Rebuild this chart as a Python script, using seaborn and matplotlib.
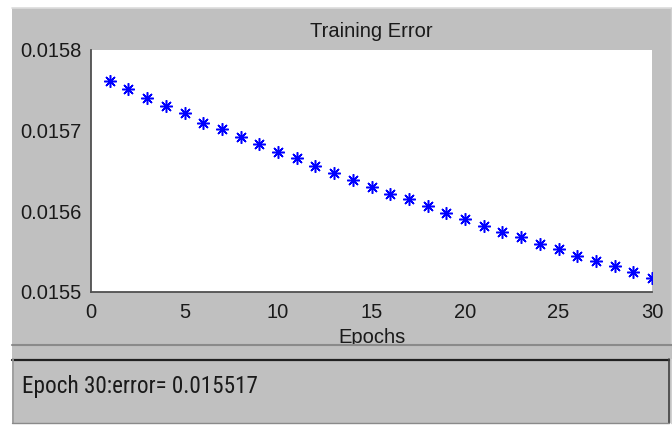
import matplotlib
matplotlib.use('Agg')
import matplotlib.pyplot as plt
import seaborn as sns
from matplotlib.patches import Rectangle
from matplotlib.lines import Line2D

# ---- data ----
epochs = list(range(1, 31))
errors = [0.015761, 0.015752, 0.015741, 0.015731, 0.015722, 0.015710,
          0.015702, 0.015692, 0.015683, 0.015673, 0.015666, 0.015656,
          0.015647, 0.015639, 0.015630, 0.015622, 0.015615, 0.015607,
          0.015598, 0.015590, 0.015582, 0.015574, 0.015568, 0.015560,
          0.015553, 0.015545, 0.015538, 0.015532, 0.015525, 0.015517]
x_ticks = [0, 5, 10, 15, 20, 25, 30]
y_ticks = [0.0155, 0.0156, 0.0157, 0.0158]
title = "Training Error"
xlabel = "Epochs"
status = "Epoch 30:error= 0.015517"

W, H = 672, 425
sns.set_theme(style="white")
plt.rcParams['font.family'] = ['Liberation Sans', 'DejaVu Sans']

fig = plt.figure(figsize=(W / 100, H / 100), dpi=100, facecolor='white')
gray = '#c0c0c0'


def rect(x0, y0, x1, y1, **kw):
    return Rectangle((x0 / W, 1 - y1 / H), (x1 - x0) / W, (y1 - y0) / H,
                     transform=fig.transFigure, **kw)


def hline(y, x0, x1, **kw):
    return Line2D([x0 / W, x1 / W], [1 - y / H, 1 - y / H], transform=fig.transFigure, **kw)


def vline(x, y0, y1, **kw):
    return Line2D([x / W, x / W], [1 - y0 / H, 1 - y1 / H], transform=fig.transFigure, **kw)


# background gray window
fig.patches.append(rect(12, 8, 672, 423, facecolor=gray, edgecolor='none', zorder=-10))
fig.lines.append(hline(7.5, 12, 672, color='#dcdcdc', lw=1.2, zorder=-9))
fig.lines.append(vline(670.5, 8, 423, color='#d0d0d0', lw=1.0, zorder=-9))

# axes
ax = fig.add_axes([91 / W, 1 - 292 / H, (652 - 91) / W, (292 - 50) / H])
ax.set_facecolor('white')
sns.lineplot(x=epochs, y=errors, ax=ax, marker=(8, 2, 0), linestyle='',
             color='blue', markersize=9, markeredgewidth=1.1,
             markeredgecolor='blue', errorbar=None)
ax.set_xlim(0, 30)
ax.set_ylim(0.0155, 0.0158)
ax.set_xticks(x_ticks)
ax.set_xticklabels([str(t) for t in x_ticks])
ax.set_yticks(y_ticks)
ax.set_yticklabels([f"{t:.4f}" for t in y_ticks])
for s in ['top', 'right']:
    ax.spines[s].set_visible(False)
for s in ['left', 'bottom']:
    ax.spines[s].set_color('#505050')
    ax.spines[s].set_linewidth(1.3)
ax.tick_params(direction='in', length=4, width=1, colors='#505050',
               labelcolor='#1a1a1a', labelsize=14.5)
ax.tick_params(axis='x', pad=8)
ax.tick_params(axis='y', pad=7)
ax.grid(False)
ax.set_title(title, fontsize=14.5, pad=9, color='#1a1a1a')
ax.set_xlabel(xlabel, fontsize=14.5, color='#1a1a1a', va='baseline')
ax.xaxis.set_label_coords(0.5, -(343 - 292) / 242)
ax.set_ylabel('')

# cover to clip xlabel descender, separator
fig.patches.append(rect(12, 343.5, 672, 359, facecolor=gray, edgecolor='none', zorder=5))
fig.lines.append(hline(344.5, 12, 672, color='#8a8a8a', lw=1.5, zorder=6))

# status panel
fig.patches.append(rect(12, 359, 669, 423, facecolor=gray, edgecolor='none', zorder=6))
fig.lines.append(hline(359.5, 12, 669, color='#202020', lw=1.6, zorder=7))
fig.lines.append(vline(12.5, 359, 423, color='#9a9a9a', lw=1.2, zorder=7))
fig.lines.append(vline(668.5, 359, 423, color='#404040', lw=1.2, zorder=7))
fig.lines.append(hline(422.5, 12, 669, color='#8a8a8a', lw=1.0, zorder=7))
txt = fig.text(22 / W, 1 - 393.5 / H, status, fontsize=17.5,
               family=['Roboto Condensed', 'Roboto', 'DejaVu Sans'],
               va='baseline', ha='left', color='#1a1a1a', zorder=8)

# fit the status text to its width in the reference (~236 px)
renderer = fig.canvas.get_renderer()
w = txt.get_window_extent(renderer).width
if w > 0:
    txt.set_fontsize(min(17.5, 17.5 * 236 / w))

fig.savefig('out.png', dpi=100, facecolor='white')
